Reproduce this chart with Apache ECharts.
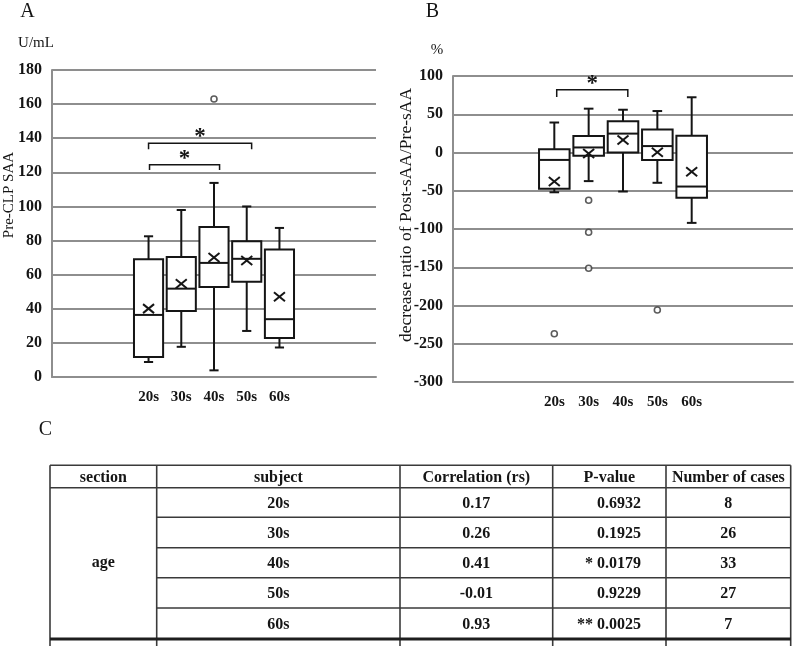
<!DOCTYPE html>
<html>
<head>
<meta charset="utf-8">
<script src="https://cdn.jsdelivr.net/npm/echarts@6/dist/echarts.min.js"></script>
<style>
  html, body { margin: 0; padding: 0; background: #fff; }
  #chart { width: 797px; height: 646px; }
</style>
</head>
<body>
<div id="chart"></div>
<script>
const SERIF = '"Liberation Serif", "Times New Roman", serif';

const ageGroups = ['20s', '30s', '40s', '50s', '60s'];

// panel A: pre-CLP SAA (U/mL), [low whisker, Q1, median, Q3, high whisker]
const saaBoxes = [
  [8.8, 11.7, 36.4, 69.1, 82.5],
  [17.7, 38.7, 51.8, 70.3, 97.9],
  [3.9, 52.7, 66.9, 88, 113.8],
  [27, 55.8, 69.3, 79.6, 100],
  [17.3, 22.8, 33.9, 74.7, 87.4]
];
const saaMeans = [40.1, 54.7, 70.1, 68.3, 47.1];
const saaOutliers = [[2, 163]];
// [from, to, bracket top, tick bottom]
const saaBrackets = [[0, 3.15, 137, 133.6], [0.03, 2.17, 124.5, 121.4]];

// panel B: decrease ratio (%)
const ratioBoxes = [
  [-52, -47.5, -9.7, 4.4, 39.2],
  [-37.4, -4.4, 6.6, 21.6, 57.3],
  [-51, 0, 24.7, 41, 55.9],
  [-39.6, -9.7, 8.4, 30, 54.2],
  [-92, -59.3, -44.5, 22, 72.2]
];
const ratioMeans = [-37.9, -1.3, 16.3, 0.4, -25.1];
const ratioOutliers = [[0, -237], [1, -62.4], [1, -104.3], [1, -151.4], [3, -205.9]];
const ratioBrackets = [[0.07, 2.14, 82, 72.4]];

// panel C table
const tableHeader = ['section', 'subject', 'Correlation (rs)', 'P-value', 'Number of cases'];
const tableSection = 'age';
const corrRs = ['0.17', '0.26', '0.41', '-0.01', '0.93'];
const pValues = ['0.6932', '0.1925', '* 0.0179', '0.9229', '** 0.0025'];
const caseCounts = ['8', '26', '33', '27', '7'];

const GRID_LINE = '#8e8e8e';
const INK = '#151515';

function boxData(boxes, means) {
  return boxes.map((b, i) => [i, ...b, means[i]]);
}

function renderBox(params, api) {
  const x = api.value(0);
  const c = (v) => api.coord([x, v]);
  const lo = c(api.value(1)), q1 = c(api.value(2)), med = c(api.value(3));
  const q3 = c(api.value(4)), hi = c(api.value(5)), mean = c(api.value(6));
  const cx = lo[0];
  const half = api.size([0.89, 0])[0] / 2;
  const cap = api.size([0.28, 0])[0] / 2;
  const line = { stroke: INK, lineWidth: 2 };
  const seg = (x1, y1, x2, y2) => ({ type: 'line', shape: { x1, y1, x2, y2 }, style: line });
  return {
    type: 'group',
    children: [
      seg(cx, q3[1], cx, hi[1]),
      seg(cx - cap, hi[1], cx + cap, hi[1]),
      seg(cx, q1[1], cx, lo[1]),
      seg(cx - cap, lo[1], cx + cap, lo[1]),
      {
        type: 'rect',
        shape: { x: cx - half, y: q3[1], width: half * 2, height: q1[1] - q3[1] },
        style: { fill: '#fff', stroke: INK, lineWidth: 2 }
      },
      seg(cx - half, med[1], cx + half, med[1]),
      seg(cx - 5.5, mean[1] - 4.5, cx + 5.5, mean[1] + 4.5),
      seg(cx - 5.5, mean[1] + 4.5, cx + 5.5, mean[1] - 4.5)
    ]
  };
}

function renderBracket(params, api) {
  const a = api.coord([api.value(0), api.value(2)]);
  const b = api.coord([api.value(1), api.value(2)]);
  const bottom = api.coord([api.value(0), api.value(3)])[1];
  return {
    type: 'group',
    children: [
      {
        type: 'polyline',
        shape: { points: [[a[0], bottom], a, b, [b[0], bottom]] },
        style: { stroke: INK, lineWidth: 1.5, fill: null }
      },
      {
        type: 'text',
        x: (a[0] + b[0]) / 2,
        y: a[1] - 6,
        style: { text: '*', font: 'bold 23px ' + SERIF, fill: INK, align: 'center', verticalAlign: 'middle' }
      }
    ]
  };
}

function xAxisFor(gridIndex) {
  return {
    type: 'value',
    gridIndex,
    min: -2.95,
    max: 6.95,
    axisLine: { show: true, onZero: false, lineStyle: { color: GRID_LINE, width: 2 } },
    axisTick: { show: false },
    splitLine: { show: false },
    axisLabel: {
      customValues: [0, 1, 2, 3, 4],
      formatter: (v) => ageGroups[Math.round(v)],
      margin: 13,
      color: INK,
      fontFamily: SERIF,
      fontWeight: 'bold',
      fontSize: 15
    }
  };
}

function yAxisFor(gridIndex, min, max, interval) {
  return {
    type: 'value',
    gridIndex,
    min,
    max,
    interval,
    axisLine: { show: true, onZero: false, lineStyle: { color: GRID_LINE, width: 2 } },
    axisTick: { show: false },
    splitLine: { show: true, lineStyle: { color: GRID_LINE, width: 2 } },
    axisLabel: { margin: 10, color: INK, fontFamily: SERIF, fontWeight: 'bold', fontSize: 16 }
  };
}

function outlierSeries(idx, data) {
  return {
    type: 'scatter',
    xAxisIndex: idx,
    yAxisIndex: idx,
    data,
    symbol: 'circle',
    symbolSize: 6,
    itemStyle: { color: '#fff', borderColor: '#333', borderWidth: 1.6 },
    z: 5
  };
}

// table built as graphic elements
function tableGraphics() {
  const colX = [50, 156.7, 400, 552.7, 666, 790.7];
  const rowY = [465.3, 487.7, 517.3, 547.7, 577.7, 608, 639];
  const lineStyle = { stroke: '#3a3a3a', lineWidth: 1.6 };
  const out = [];
  const hline = (x1, x2, y, style) => out.push({ type: 'line', shape: { x1, y1: y, x2, y2: y }, style: style || lineStyle });
  const text = (t, x, y, align) => out.push({
    type: 'text', x, y,
    style: { text: t, font: 'bold 16px ' + SERIF, fill: INK, align: align || 'center', verticalAlign: 'middle' }
  });
  colX.forEach((x) => out.push({ type: 'line', shape: { x1: x, y1: rowY[0], x2: x, y2: 646 }, style: lineStyle }));
  hline(colX[0], colX[5], rowY[0]);
  hline(colX[0], colX[5], rowY[1]);
  for (let r = 2; r < rowY.length - 1; r++) hline(colX[1], colX[5], rowY[r]);
  hline(colX[0], colX[5], rowY[6], { stroke: '#1e1e1e', lineWidth: 3 });
  const mid = (i) => (colX[i] + colX[i + 1]) / 2;
  tableHeader.forEach((h, i) => text(h, mid(i), (rowY[0] + rowY[1]) / 2 + 1));
  text(tableSection, mid(0), (rowY[1] + rowY[6]) / 2);
  ageGroups.forEach((g, r) => {
    const y = (rowY[r + 1] + rowY[r + 2]) / 2 + 1;
    text(g, mid(1), y);
    text(corrRs[r], mid(2), y);
    text(pValues[r], 641, y, 'right');
    text(caseCounts[r], mid(4), y);
  });
  return out;
}

const label = (t, x, y, size, rot) => ({
  type: 'text', x, y, rotation: rot || 0,
  style: { text: t, font: size + 'px ' + SERIF, fill: INK, align: 'center', verticalAlign: 'middle' }
});

const chart = echarts.init(document.getElementById('chart'));
chart.setOption({
  backgroundColor: '#fff',
  animation: false,
  grid: [
    { left: 52, top: 70, width: 324, height: 307 },
    { left: 453, top: 76, width: 340, height: 306 }
  ],
  xAxis: [xAxisFor(0), xAxisFor(1)],
  yAxis: [yAxisFor(0, 0, 180, 20), yAxisFor(1, -300, 100, 50)],
  series: [
    { type: 'custom', xAxisIndex: 0, yAxisIndex: 0, data: boxData(saaBoxes, saaMeans), renderItem: renderBox, z: 3 },
    outlierSeries(0, saaOutliers),
    { type: 'custom', xAxisIndex: 0, yAxisIndex: 0, data: saaBrackets, renderItem: renderBracket, z: 4 },
    { type: 'custom', xAxisIndex: 1, yAxisIndex: 1, data: boxData(ratioBoxes, ratioMeans), renderItem: renderBox, z: 3 },
    outlierSeries(1, ratioOutliers),
    { type: 'custom', xAxisIndex: 1, yAxisIndex: 1, data: ratioBrackets, renderItem: renderBracket, z: 4 }
  ],
  graphic: [
    label('A', 27.5, 12, 20),
    label('B', 432.5, 12, 20),
    label('C', 45.5, 430, 20),
    label('U/mL', 36, 43, 15),
    label('%', 437, 50, 15),
    label('Pre-CLP SAA', 9, 195, 15, Math.PI / 2),
    label('decrease ratio of Post-sAA/Pre-sAA', 406, 215, 17.5, Math.PI / 2),
    ...tableGraphics()
  ]
});
</script>
</body>
</html>
